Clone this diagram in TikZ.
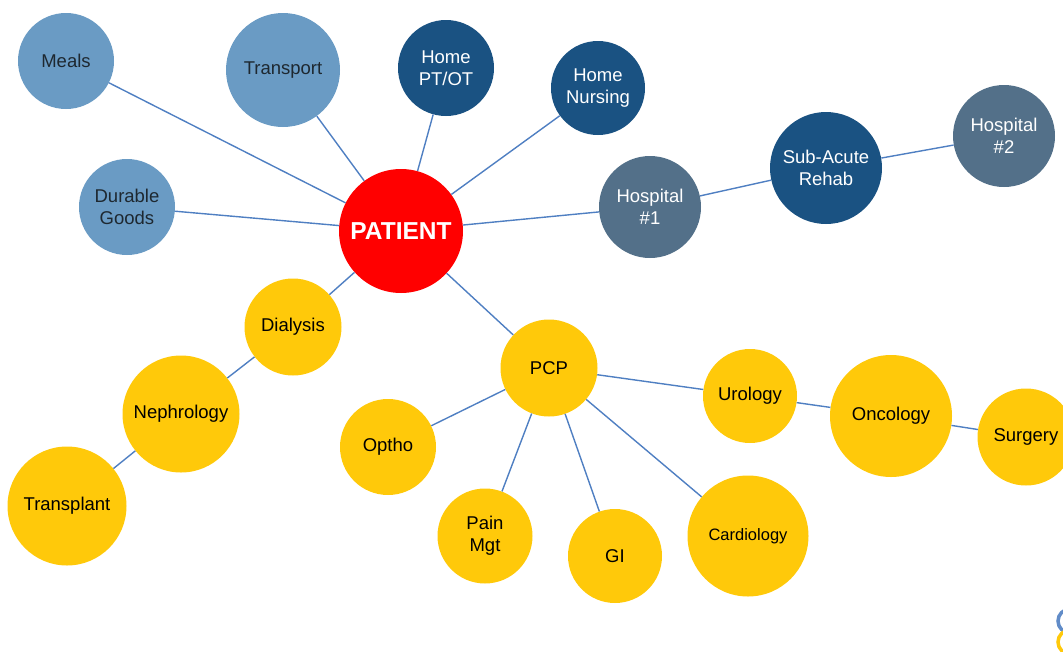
\documentclass[tikz,border=0pt]{standalone}
\usepackage{fontspec}
\setmainfont{Liberation Sans}
\definecolor{lightblue}{HTML}{6A9BC4}
\definecolor{darkblue}{HTML}{1A5282}
\definecolor{slate}{HTML}{537089}
\definecolor{gold}{HTML}{FFC90A}
\definecolor{linkblue}{HTML}{4F7FC2}
\definecolor{darktext}{HTML}{1E2830}
\begin{document}
\begin{tikzpicture}[x=1pt,y=-1pt,
  bub/.style={circle,inner sep=0pt,align=center,minimum size=#1,
    font=\fontsize{18.5}{22}\selectfont},
  lb/.style={bub=#1,fill=lightblue,text=darktext},
  db/.style={bub=#1,fill=darkblue,text=white},
  sb/.style={bub=#1,fill=slate,text=white},
  yb/.style={bub=#1,fill=gold,text=black},
  link/.style={draw=linkblue,line width=1.4pt}]
\useasboundingbox (0,0) rectangle (1063,651);
% nodes
\node[lb=96] (meals) at (66,61) {Meals};
\node[lb=114] (transport) at (283,70) {Transport};
\node[db=96] (ptot) at (446,68) {Home\\PT/OT};
\node[db=94] (nursing) at (598,88) {Home\\Nursing};
\node[lb=96] (durable) at (127,207) {Durable\\Goods};
\node[circle,inner sep=0pt,minimum size=124,fill=red,text=white,
  font=\bfseries\fontsize{24.5}{26}\selectfont] (patient) at (401,231) {PATIENT};
\node[sb=102] (hosp1) at (650,207) {Hospital\\\#1};
\node[db=112] (rehab) at (826,168) {Sub-Acute\\Rehab};
\node[sb=102] (hosp2) at (1004,136) {Hospital\\\#2};
\node[yb=97] (dialysis) at (293,327) {Dialysis};
\node[yb=117] (nephro) at (181,414) {Nephrology};
\node[yb=119] (transplant) at (67,506) {Transplant};
\node[yb=97] (pcp) at (549,368) {PCP};
\node[yb=96] (optho) at (388,447) {Optho};
\node[yb=95] (pain) at (485,536) {Pain\\Mgt};
\node[yb=94] (gi) at (615,556) {GI};
\node[yb=121] (cardio) at (748,536) {\fontsize{16.5}{18}\selectfont Cardiology};
\node[yb=94] (uro) at (750,396) {Urology};
\node[yb=122] (onco) at (891,416) {Oncology};
\node[yb=97] (surgery) at (1026,437) {Surgery};
% links
\draw[link] (patient) -- (meals);
\draw[link] (patient) -- (transport);
\draw[link] (patient) -- (ptot);
\draw[link] (patient) -- (nursing);
\draw[link] (patient) -- (durable);
\draw[link] (patient) -- (hosp1);
\draw[link] (hosp1) -- (rehab);
\draw[link] (rehab) -- (hosp2);
\draw[link] (patient) -- (dialysis);
\draw[link] (dialysis) -- (nephro);
\draw[link] (nephro) -- (transplant);
\draw[link] (patient) -- (pcp);
\draw[link] (pcp) -- (optho);
\draw[link] (pcp) -- (pain);
\draw[link] (pcp) -- (gi);
\draw[link] (pcp) -- (cardio);
\draw[link] (pcp) -- (uro);
\draw[link] (uro) -- (onco);
\draw[link] (onco) -- (surgery);
% partial logo at corner
\draw[linkblue!90,line width=3.5pt] (1070,621) circle (12);
\draw[gold,line width=3.5pt] (1070,642) circle (12);
\end{tikzpicture}
\end{document}
